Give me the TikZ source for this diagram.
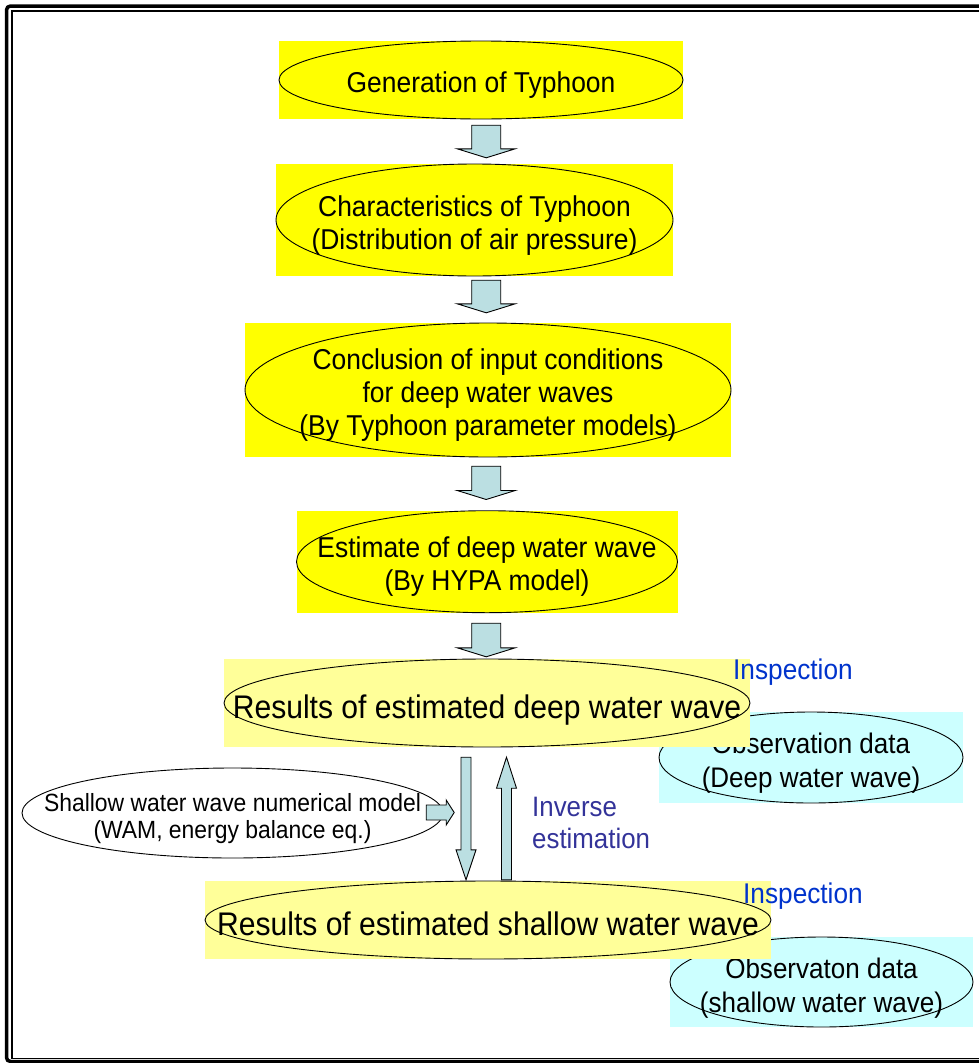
\documentclass[tikz,border=0pt]{standalone}
\usepackage{fontspec}
\setmainfont{Liberation Sans}[FakeStretch=0.92]
\usetikzlibrary{calc}

\definecolor{boxyellow}{HTML}{FFFF00}
\definecolor{paleyellow}{HTML}{FFFF99}
\definecolor{obscyan}{HTML}{CCFFFF}
\definecolor{arrowfill}{HTML}{BBDFE2}
\definecolor{inspblue}{HTML}{0033CC}
\definecolor{invblue}{HTML}{333399}

% invisible strut that gives the first line of a label extra headroom
\newcommand\headroom[1]{\rule{0pt}{#1}}

\tikzset{
  panel/.style={rectangle, inner sep=0pt, align=center, draw=none},
  stepfill/.style={panel, fill=boxyellow, font=\fontsize{28.7}{33}\selectfont},
  resultfill/.style={panel, fill=paleyellow, font=\fontsize{32.7}{38}\selectfont},
  obsfill/.style={panel, fill=obscyan, font=\fontsize{28.3}{34}\selectfont},
  rim/.style={draw=black, line width=0.9pt},
  blockbase/.style={draw=black, line width=0.9pt, fill=arrowfill, line join=miter},
  % vertical block arrow, head at the target: shaft half width, head half width, head length
  blockdown/.style n args={3}{blockbase, to path={
    ($(\tikztostart)+(-#1,0)$) -- ($(\tikztotarget)+(-#1,-#3)$) -- ($(\tikztotarget)+(-#2,-#3)$)
    -- (\tikztotarget) -- ($(\tikztotarget)+(#2,-#3)$) -- ($(\tikztotarget)+(#1,-#3)$)
    -- ($(\tikztostart)+(#1,0)$) -- cycle}},
  blockup/.style n args={3}{blockbase, to path={
    ($(\tikztostart)+(-#1,0)$) -- ($(\tikztotarget)+(-#1,#3)$) -- ($(\tikztotarget)+(-#2,#3)$)
    -- (\tikztotarget) -- ($(\tikztotarget)+(#2,#3)$) -- ($(\tikztotarget)+(#1,#3)$)
    -- ($(\tikztostart)+(#1,0)$) -- cycle}},
  blockright/.style n args={3}{blockbase, to path={
    ($(\tikztostart)+(0,-#1)$) -- ($(\tikztotarget)+(-#3,-#1)$) -- ($(\tikztotarget)+(-#3,-#2)$)
    -- (\tikztotarget) -- ($(\tikztotarget)+(-#3,#2)$) -- ($(\tikztotarget)+(-#3,#1)$)
    -- ($(\tikztostart)+(0,#1)$) -- cycle}},
  inspect/.style={font=\fontsize{28.5}{34}\selectfont, text=inspblue, inner sep=0pt, anchor=base west},
}

\begin{document}
\begin{tikzpicture}[x=1pt,y=-1pt]
\useasboundingbox (0,0) rectangle (979,1063);
\clip (0,0) rectangle (979,1063);

% double page frame
\draw[line width=3.5pt, rounded corners=4pt] (6.5,6) rectangle (1000,1061.5);
\draw[line width=1.4pt] (12,11) rectangle (990,1058.5);

% axis of the main column of block arrows
\coordinate (axis) at (486.2,0);

% main chain of steps
\node[stepfill, minimum width=404, minimum height=78] (gen) at (481,80)
  {\headroom{31pt}Generation of Typhoon};
\draw[rim] (gen.center) ellipse [x radius=202, y radius=39];

\node[stepfill, minimum width=397, minimum height=112] (chr) at (474.5,220)
  {\headroom{32pt}Characteristics of Typhoon\\(Distribution of air pressure)};
\draw[rim] (chr.center) ellipse [x radius=198.5, y radius=56];

\node[stepfill, minimum width=486, minimum height=134] (conc) at (488,390)
  {\headroom{31pt}Conclusion of input conditions\\for deep water waves\\(By Typhoon parameter models)};
\draw[rim] (conc.center) ellipse [x radius=243, y radius=67];

\node[stepfill, minimum width=381, minimum height=102] (est) at (487,561.7)
  {\headroom{31pt}Estimate of deep water wave\\(By HYPA model)};
\draw[rim] (est.center) ellipse [x radius=190.5, y radius=51];

% observation data beside the deep water results
\node[obsfill, minimum width=304, minimum height=91] (obs1) at (811,757.5)
  {\headroom{32.6pt}Observation data\\(Deep water wave)};
\draw[rim] (obs1.center) ellipse [x radius=152, y radius=45.5];

\node[resultfill, minimum width=526, minimum height=88] (rdeep) at (487,703)
  {\headroom{37.5pt}Results of estimated deep water wave};
\draw[rim] (rdeep.center) ellipse [x radius=263, y radius=44];

% observation data beside the shallow water results
\node[obsfill, minimum width=303, minimum height=90] (obs2) at (821.5,982)
  {\headroom{32.6pt}Observaton data\\(shallow water wave)};
\draw[rim] (obs2.center) ellipse [x radius=151.5, y radius=45];

\node[resultfill, minimum width=566, minimum height=78] (rshal) at (488,920)
  {\headroom{30.5pt}Results of estimated shallow water wave};
\draw[rim] (rshal.center) ellipse [x radius=283, y radius=39];

% numerical model feeding the shallow water estimate
\node[panel, minimum width=421, minimum height=90, font=\fontsize{24.9}{27}\selectfont] (model) at (232.5,813)
  {\headroom{29pt}Shallow water wave numerical model\\(WAM, energy balance eq.)};
\draw[rim] (model.center) ellipse [x radius=210.5, y radius=45];

% block arrows of the main chain
\coordinate (a1s) at ($(gen.south -| axis)+(0,6)$);
\coordinate (a1e) at ($(chr.north -| axis)+(0,-6)$);
\coordinate (a2s) at ($(chr.south -| axis)+(0,4)$);
\coordinate (a2e) at ($(conc.north -| axis)+(0,-10)$);
\coordinate (a3s) at ($(conc.south -| axis)+(0,9)$);
\coordinate (a3e) at ($(est.north -| axis)+(0,-11)$);
\coordinate (a4s) at ($(est.south -| axis)+(0,10.3)$);
\coordinate (a4e) at ($(rdeep.north -| axis)+(0,-2)$);
\draw[blockdown={14.5}{29}{9}] (a1s) to (a1e);
\draw[blockdown={14.5}{29}{9}] (a2s) to (a2e);
\draw[blockdown={14.5}{29}{9}] (a3s) to (a3e);
\draw[blockdown={14.5}{29}{9}] (a4s) to (a4e);

% estimation and inverse estimation between deep and shallow results
\coordinate (dnx) at (466,0);
\coordinate (upx) at (506.5,0);
\coordinate (dns) at ($(rdeep.south -| dnx)+(0,10)$);
\coordinate (dne) at ($(rshal.north -| dnx)+(0,-1)$);
\coordinate (ups) at ($(rshal.north -| upx)+(0,-1)$);
\coordinate (upe) at ($(rdeep.south -| upx)+(0,10)$);
\draw[blockdown={5}{10}{30}] (dns) to (dne);
\draw[blockup={5}{10}{31}] (ups) to (upe);

\coordinate (ms) at ($(model.east)+(-17,-0.5)$);
\coordinate (me) at ($(model.east)+(11,-0.5)$);
\draw[blockright={7.5}{12.5}{8}] (ms) to (me);

% labels
\node[font=\fontsize{28.1}{32}\selectfont, text=invblue, align=left, inner sep=0pt, anchor=north west]
  (inv) at (532,797) {Inverse\\estimation};
\node[inspect] (insp1) at (733,679) {Inspection};
\node[inspect] (insp2) at (743,903) {Inspection};
\end{tikzpicture}
\end{document}
